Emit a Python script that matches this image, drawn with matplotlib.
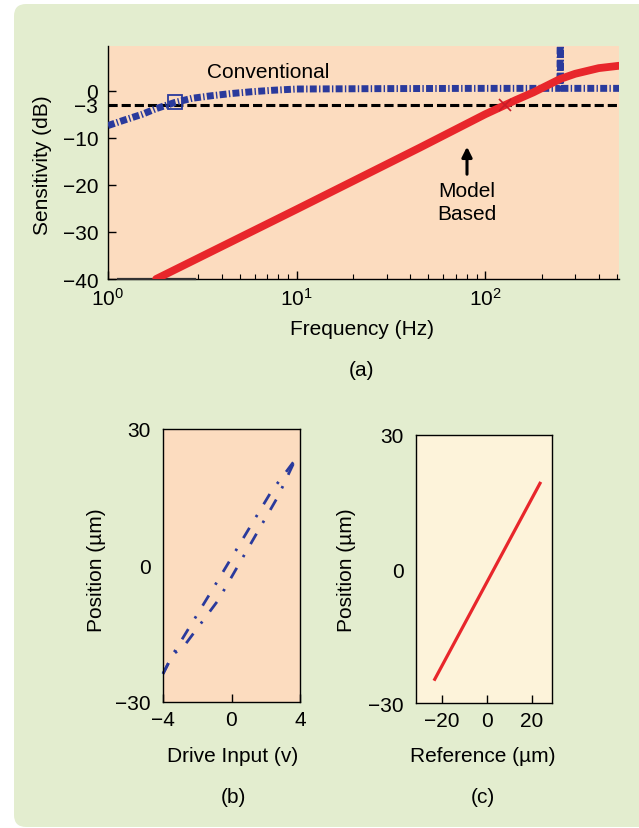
import matplotlib
matplotlib.use('Agg')
import matplotlib.pyplot as plt
from matplotlib.patches import FancyBboxPatch
from matplotlib.ticker import LogLocator, NullFormatter

plt.rcParams['font.family'] = ['Liberation Sans', 'DejaVu Sans']
plt.rcParams['mathtext.fontset'] = 'custom'
plt.rcParams['mathtext.rm'] = 'Liberation Sans'
plt.rcParams['mathtext.it'] = 'Liberation Sans'

# ---------------- data ----------------
# (a) sensitivity vs frequency
conv_freq = [1.0, 1.25, 1.52, 1.8, 2.26, 2.8, 3.55, 4.5, 5.83, 7.5, 10, 30, 100, 249, 250, 251, 512]
conv_db = [-7.4, -6.1, -5.0, -3.8, -2.5, -1.6, -1.06, -0.6, -0.2, 0.1, 0.36, 0.45, 0.5, 0.5, 15, 0.5, 0.5]
model_freq = [1.8, 10, 45, 100, 145, 180, 250, 300, 400, 512]
model_db = [-40, -25.2, -12.1, -5.0, -2.0, -0.35, 2.5, 3.6, 4.8, 5.3]
ref_freq = [1.0, 512]
ref_db = [-3, -3]
floor_freq = [1.13, 2.9]
floor_db = [-40, -40]
conv_mark = (2.26, -2.5)
model_mark = (128, -3.0)

# (b) position vs drive input (hysteresis)
upper_v = [-4.0, -3.42, -1.27, 2.33, 3.73]
upper_pos = [-23.8, -19.5, -6.26, 16.3, 23.3]
lower_v = [-4.0, -3.42, -2.83, -0.79, 2.72, 3.73]
lower_pos = [-23.8, -19.5, -18.0, -7.7, 15.2, 23.3]

# (c) position vs reference
ref_um = [-23.5, 24]
pos_um = [-25, 19.5]

# ---------------- styling ----------------
W, H = 639, 829
GREEN = '#e3edcf'
PEACH = '#fcdcbf'
CREAM = '#fdf3da'
BLUE = '#2a3a9c'
RED = '#e8262b'
FS = 15

def fx(x):
    return x / W

def fy(y):
    return 1 - y / H

fig = plt.figure(figsize=(W / 100, H / 100), dpi=100, facecolor='white')
bg = FancyBboxPatch((fx(14), fy(828)), fx(700) - fx(14), fy(5) - fy(828),
                    boxstyle='round,pad=0,rounding_size=0.019',
                    mutation_aspect=W / H, transform=fig.transFigure,
                    facecolor=GREEN, edgecolor='none', zorder=-10)
fig.patches.append(bg)

def axes_px(l, t, r, b):
    a = fig.add_axes([fx(l), fy(b), fx(r) - fx(l), fy(t) - fy(b)])
    a.set_zorder(1)
    return a

# ---------------- panel (a) ----------------
ax = axes_px(108, 47, 619, 280)
ax.set_facecolor(PEACH)
ax.set_xscale('log')
ax.set_xlim(1, 512)
ax.set_ylim(-40, 9.5)
ax.spines['top'].set_visible(False)
ax.spines['right'].set_visible(False)
for s in ('left', 'bottom'):
    ax.spines[s].set_linewidth(1.0)

ax.plot(ref_freq, ref_db, color='black', lw=2.2, ls=(0, (3.0, 1.3)), zorder=3)
ax.plot(floor_freq, floor_db, color='#333333', lw=1.6, zorder=3, clip_on=False)
ax.plot(conv_freq, conv_db, color=BLUE, lw=5.0, ls=(0, (1.0, 0.33, 0.2, 0.33)),
        solid_capstyle='butt', dash_capstyle='butt', zorder=4)
ax.plot(model_freq, model_db, color=RED, lw=5.6, zorder=5, solid_capstyle='round',
        solid_joinstyle='round')
ax.plot([conv_mark[0]], [conv_mark[1]], marker='s', ms=10, mfc='none', mec=BLUE, mew=1.3, zorder=6)
ax.plot([model_mark[0]], [model_mark[1]], marker='x', ms=8, mec='#c81c28', mew=1.2, zorder=6)

ax.set_xticks([1, 10, 100])
ax.set_xticklabels([r'$\mathdefault{10^0}$', r'$\mathdefault{10^1}$', r'$\mathdefault{10^2}$'])
ax.xaxis.set_minor_locator(LogLocator(base=10, subs=range(2, 10)))
ax.xaxis.set_minor_formatter(NullFormatter())
ax.set_yticks([0, -3, -10, -20, -30, -40])
ax.set_yticklabels(['0', '\u22123', '\u221210', '\u221220', '\u221230', '\u221240'])
ax.tick_params(axis='both', which='major', direction='in', length=6, width=1, labelsize=FS, pad=6)
ax.tick_params(axis='x', which='minor', direction='in', length=3.5, width=0.8)
ax.tick_params(axis='y', pad=7)

fig.text(fx(268), fy(72), 'Conventional', ha='center', va='center', fontsize=FS)
fig.text(fx(467), fy(203), 'Model\nBased', ha='center', va='center', fontsize=FS, linespacing=1.3)
ax.annotate('', xy=(fx(467), fy(145)), xytext=(fx(467), fy(178)),
            xycoords='figure fraction', textcoords='figure fraction',
            arrowprops=dict(arrowstyle='-|>,head_length=0.6,head_width=0.3', color='black', lw=2.2))
fig.text(fx(42), fy(165), 'Sensitivity (dB)', rotation=90, ha='center', va='center', fontsize=FS)
fig.text(fx(362), fy(330), 'Frequency (Hz)', ha='center', va='center', fontsize=FS)
fig.text(fx(362), fy(370), '(a)', ha='center', va='center', fontsize=FS)

# ---------------- panel (b) ----------------
bx = axes_px(163, 430, 300, 703)
bx.set_facecolor(PEACH)
bx.set_xlim(-4, 4)
bx.set_ylim(-30, 30)
for s in bx.spines.values():
    s.set_linewidth(1.0)
dd = (0, (4.3, 4.5, 0.9, 4.5))
bx.plot(upper_v, upper_pos, color=BLUE, lw=2.0, ls=dd, dash_capstyle='butt', clip_on=False)
bx.plot(lower_v, lower_pos, color=BLUE, lw=2.0, ls=dd, dash_capstyle='butt', clip_on=False)
bx.set_xticks([-4, 0, 4])
bx.set_xticklabels(['\u22124', '0', '4'])
bx.set_yticks([-30, 0, 30])
bx.set_yticklabels(['\u221230', '0', '30'])
bx.tick_params(axis='x', direction='in', length=6, width=1, labelsize=FS, pad=6)
bx.tick_params(axis='y', direction='in', length=0, labelsize=FS, pad=9)
fig.text(fx(97), fy(570), 'Position (\u00b5m)', rotation=90, ha='center', va='center', fontsize=FS)
fig.text(fx(233), fy(757), 'Drive Input (v)', ha='center', va='center', fontsize=FS)
fig.text(fx(233), fy(798), '(b)', ha='center', va='center', fontsize=FS)

# ---------------- panel (c) ----------------
cx = axes_px(416, 436, 552, 704)
cx.set_facecolor(CREAM)
cx.set_xlim(-31.5, 29)
cx.set_ylim(-30, 30)
for s in cx.spines.values():
    s.set_linewidth(1.0)
cx.plot(ref_um, pos_um, color=RED, lw=2.3, solid_capstyle='butt')
cx.set_xticks([-20, 0, 20])
cx.set_xticklabels(['\u221220', '0', '20'])
cx.set_yticks([-30, 0, 30])
cx.set_yticklabels(['\u221230', '0', '30'])
cx.tick_params(axis='x', direction='in', length=6, width=1, labelsize=FS, pad=6)
cx.tick_params(axis='y', direction='in', length=0, labelsize=FS, pad=9)
fig.text(fx(347), fy(570), 'Position (\u00b5m)', rotation=90, ha='center', va='center', fontsize=FS)
fig.text(fx(483), fy(757), 'Reference (\u00b5m)', ha='center', va='center', fontsize=FS)
fig.text(fx(483), fy(798), '(c)', ha='center', va='center', fontsize=FS)

fig.savefig('out.png', dpi=100, facecolor='white')
